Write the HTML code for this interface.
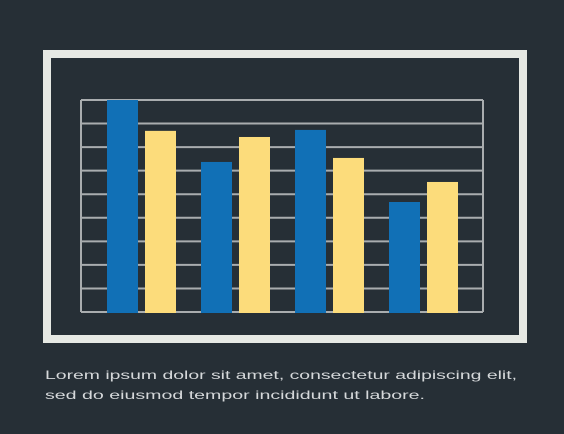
<!DOCTYPE html>
<html><head><meta charset="utf-8"><style>
html,body{margin:0;padding:0;background:#262f36;}
svg{display:block;}
</style></head><body>
<svg width="564" height="434" viewBox="0 0 564 434" xmlns="http://www.w3.org/2000/svg">
<rect x="0" y="0" width="564" height="434" fill="#262f36"/>
<rect x="47" y="54" width="476" height="285" fill="none" stroke="#e6e9e4" stroke-width="8"/>
<g id="grid"></g>
<g id="bars"></g>
<text x="45" y="379" font-family="Liberation Sans, sans-serif" font-size="12" fill="#d5d8da" textLength="472" lengthAdjust="spacingAndGlyphs">Lorem ipsum dolor sit amet, consectetur adipiscing elit,</text>
<text x="45" y="399" font-family="Liberation Sans, sans-serif" font-size="12" fill="#d5d8da" textLength="380" lengthAdjust="spacingAndGlyphs">sed do eiusmod tempor incididunt ut labore.</text>
</svg>
<script>
const categories = ["A","B","C","D"];
const seriesBlue = [9, 6.37, 7.73, 4.67];
const seriesYellow = [7.69, 7.43, 6.54, 5.52];
const gridTicks = [0,1,2,3,4,5,6,7,8,9];
const NS="http://www.w3.org/2000/svg";
const x0=81,x1=483,yTop=100,yBot=312,maxV=9;
function y(v){return yBot-(v/maxV)*(yBot-yTop);}
function groupX(i){return 107+i*94;}
const grid=document.getElementById('grid');
gridTicks.forEach(t=>{
  const l=document.createElementNS(NS,'line');
  l.setAttribute('x1',x0);l.setAttribute('x2',x1);
  l.setAttribute('y1',y(t));l.setAttribute('y2',y(t));
  l.setAttribute('stroke','#a9adaf');l.setAttribute('stroke-width','2');
  
  
  grid.appendChild(l);
});
[x0,x1].forEach(xx=>{
  const l=document.createElementNS(NS,'line');
  l.setAttribute('x1',xx);l.setAttribute('x2',xx);
  l.setAttribute('y1',yTop);l.setAttribute('y2',yBot);
  l.setAttribute('stroke','#a9adaf');l.setAttribute('stroke-width','2');
  
  
  grid.appendChild(l);
});
const bars=document.getElementById('bars');
categories.forEach((c,i)=>{
  [[seriesBlue,'#1170b6',0],[seriesYellow,'#fcdc7b',38]].forEach(([s,col,off],k)=>{
    const r=document.createElementNS(NS,'rect');
    r.setAttribute('x',groupX(i)+off);r.setAttribute('width',31);
    r.setAttribute('y',y(s[i]));r.setAttribute('height',yBot+1-y(s[i]));
    r.setAttribute('fill',col);
    
    
    bars.appendChild(r);
  });
});
</script>
</body></html>
